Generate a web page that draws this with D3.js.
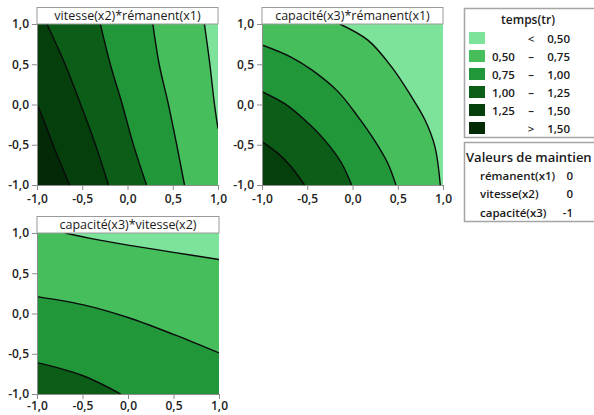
<!DOCTYPE html>
<html>
<head>
<meta charset="utf-8">
<script src="https://cdn.jsdelivr.net/npm/d3@7"></script>
<style>
  body { margin: 0; background: white; }
  svg { display: block; font-family: 'Open Sans', 'Noto Sans', sans-serif; }
</style>
</head>
<body>
<svg id="chart" width="594" height="415"></svg>
<script>
// contour levels and fill colours (light -> dark)
const levels = [0.5, 0.75, 1.0, 1.25, 1.5]
const colors = ['#7de39b', '#46be5b', '#21973a', '#0b5d17', '#05400c', '#022a06']
const legendRows = [
  ['', '<', '0,50'],
  ['0,50', '–', '0,75'],
  ['0,75', '–', '1,00'],
  ['1,00', '–', '1,25'],
  ['1,25', '–', '1,50'],
  ['', '>', '1,50']
]
const holdVars = ['rémanent(x1)', 'vitesse(x2)', 'capacité(x3)']
const holdValues = ['0', '0', '-1']
const tickValues = [-1, -0.5, 0, 0.5, 1]
const panelTitles = ['vitesse(x2)*rémanent(x1)', 'capacité(x3)*rémanent(x1)', 'capacité(x3)*vitesse(x2)']

// contour lines, [x, y] in coded units
const vrLines = [
  { level: 0.5, points: [[0.85, 1], [0.91, 0.5], [0.96, 0.01], [1, -0.3]] },
  { level: 0.75, points: [[0.28, 1], [0.35, 0.5], [0.45, 0.01], [0.54, -0.48], [0.63, -1]] },
  { level: 1.0, points: [[-0.30, 1], [-0.19, 0.5], [-0.06, 0.01], [0.06, -0.48], [0.21, -1]] },
  { level: 1.25, points: [[-0.89, 1], [-0.69, 0.5], [-0.52, 0.01], [-0.36, -0.48], [-0.21, -1]] },
  { level: 1.5, points: [[-1, 0.01], [-0.91, -0.24], [-0.83, -0.48], [-0.74, -0.73], [-0.64, -1]] }
]
const crLines = [
  { level: 0.5, points: [[-0.14, 1], [0.17, 0.8], [0.43, 0.47], [0.65, 0.1], [0.8, -0.19], [0.91, -0.52], [0.97, -1]] },
  { level: 0.75, points: [[-1, 0.74], [-0.68, 0.59], [-0.45, 0.43], [-0.16, 0.16], [0.06, -0.15], [0.24, -0.44], [0.39, -0.73], [0.48, -1]] },
  { level: 1.0, points: [[-1, 0.16], [-0.75, 0.01], [-0.53, -0.19], [-0.31, -0.44], [-0.12, -0.73], [-0.01, -1]] },
  { level: 1.25, points: [[-1, -0.46], [-0.82, -0.61], [-0.68, -0.77], [-0.53, -1]] }
]
const cvLines = [
  { level: 0.5, points: [[-0.69, 1], [-0.4, 0.93], [0, 0.85], [0.5, 0.76], [1, 0.67]] },
  { level: 0.75, points: [[-1, 0.21], [-0.5, 0.11], [0, -0.05], [0.5, -0.26], [1, -0.49]] },
  { level: 1.0, points: [[-1, -0.61], [-0.5, -0.77], [-0.08, -1]] }
]

const svg = d3.select('#chart')
const fr = d3.formatLocale({ decimal: ',', thousands: ' ', grouping: [3], currency: ['', ''], minus: '-' })
const fmt = fr.format('.1f')

const panels = [
  { lines: vrLines, x0: 37, x1: 218, y0: 24, y1: 185, pad: 4 },
  { lines: crLines, x0: 262, x1: 443, y0: 24, y1: 185, pad: 4 },
  { lines: cvLines, x0: 37, x1: 219, y0: 233, y1: 394, pad: 2 }
]

// position of a boundary point along the plot perimeter (clockwise from top-left)
function perimT (p) {
  const [x, y] = p
  const e = 1e-6
  if (Math.abs(y - 1) < e) return x + 1
  if (Math.abs(x - 1) < e) return 2 + (1 - y)
  if (Math.abs(y + 1) < e) return 4 + (1 - x)
  return 6 + (y + 1)
}
const corners = [{ t: 0, p: [-1, 1] }, { t: 2, p: [1, 1] }, { t: 4, p: [1, -1] }, { t: 6, p: [-1, -1] }]
const mod8 = (a) => ((a % 8) + 8) % 8

// corners needed to close the region on the bottom-left (high) side
function closingCorners (pts) {
  const ts = perimT(pts[0])
  const te = perimT(pts[pts.length - 1])
  const fwd = mod8(ts - te)
  if (mod8(6 - te) < fwd) {
    return corners.filter(c => mod8(c.t - te) > 0 && mod8(c.t - te) < fwd)
      .sort((a, b) => mod8(a.t - te) - mod8(b.t - te)).map(c => c.p)
  }
  const bwd = mod8(te - ts)
  return corners.filter(c => mod8(te - c.t) > 0 && mod8(te - c.t) < bwd)
    .sort((a, b) => mod8(te - a.t) - mod8(te - b.t)).map(c => c.p)
}

panels.forEach((pn, i) => {
  const x = d3.scaleLinear().domain([-1, 1]).range([pn.x0, pn.x1])
  const y = d3.scaleLinear().domain([-1, 1]).range([pn.y1, pn.y0])
  const g = svg.append('g')

  g.append('clipPath').attr('id', `clip${i}`)
    .append('rect')
    .attr('x', x(-1)).attr('y', y(1))
    .attr('width', x(1) - x(-1)).attr('height', y(-1) - y(1))

  const plot = g.append('g').attr('clip-path', `url(#clip${i})`)
  plot.append('rect')
    .attr('x', x(-1)).attr('y', y(1))
    .attr('width', x(1) - x(-1)).attr('height', y(-1) - y(1))
    .attr('fill', colors[0])

  const line = d3.line().x(d => x(d[0])).y(d => y(d[1])).curve(d3.curveCatmullRom)
  const sorted = pn.lines.slice().sort((a, b) => a.level - b.level)

  sorted.forEach(l => {
    const extra = closingCorners(l.points)
    const d = line(l.points) + extra.map(c => `L${x(c[0])},${y(c[1])}`).join('') + 'Z'
    plot.append('path')
      .attr('d', d)
      .attr('fill', colors[levels.indexOf(l.level) + 1])
  })

  sorted.forEach(l => {
    plot.append('path')
      .attr('d', line(l.points))
      .attr('fill', 'none')
      .attr('stroke', '#0a0a0a')
      .attr('stroke-width', 1.4)
  })

  // axes
  const xAxis = g.append('g')
    .attr('transform', `translate(0,${y(-1)})`)
    .call(d3.axisBottom(x).tickValues(tickValues).tickFormat(fmt).tickSize(5).tickPadding(pn.pad))
  const yAxis = g.append('g')
    .attr('transform', `translate(${x(-1)},0)`)
    .call(d3.axisLeft(y).tickValues(tickValues).tickFormat(fmt).tickSize(5).tickPadding(3))
  ;[xAxis, yAxis].forEach(a => {
    a.selectAll('path, line').attr('stroke', '#8c8c8c')
    a.selectAll('text')
      .attr('fill', '#222')
      .attr('font-size', '12px')
      .attr('font-weight', 600)
      .attr('font-family', "'Open Sans', sans-serif")
  })

  // title box
  g.append('rect')
    .attr('x', x(-1)).attr('y', y(1) - 16.5)
    .attr('width', x(1) - x(-1)).attr('height', 16.5)
    .attr('fill', 'white')
    .attr('stroke', '#9a9a9a')
  g.append('text')
    .attr('x', (x(-1) + x(1)) / 2)
    .attr('y', y(1) - 4)
    .attr('text-anchor', 'middle')
    .attr('font-size', '12.5px')
    .attr('font-weight', 500)
    .attr('fill', '#1a1a1a')
    .text(panelTitles[i])
})

// legend: response classes
const lg = svg.append('g')
lg.append('rect')
  .attr('x', 464.5).attr('y', 8.5).attr('width', 140).attr('height', 129)
  .attr('fill', 'white').attr('stroke', '#a5a5a5').attr('stroke-width', 1.5)
lg.append('text')
  .attr('x', 528).attr('y', 24)
  .attr('text-anchor', 'middle')
  .attr('font-size', '12px').attr('font-weight', 600).attr('fill', '#1a1a1a')
  .text('temps(tr)')

const rowY = d3.scaleLinear().domain([0, 5]).range([38, 128])
legendRows.forEach((r, i) => {
  const cy = rowY(i)
  lg.append('rect')
    .attr('x', 469).attr('y', cy - 6).attr('width', 16).attr('height', 12)
    .attr('fill', colors[i])
  const t = lg.append('g')
    .attr('font-size', '11.5px').attr('font-weight', 600).attr('fill', '#1a1a1a')
  t.append('text').attr('x', 492).attr('y', cy + 4.5).text(r[0])
  t.append('text').attr('x', 531).attr('y', cy + 4.5).attr('text-anchor', 'middle').text(r[1])
  t.append('text').attr('x', 570).attr('y', cy + 4.5).attr('text-anchor', 'end').text(r[2])
})

// legend: hold values
const hg = svg.append('g')
hg.append('rect')
  .attr('x', 464.5).attr('y', 142.5).attr('width', 140).attr('height', 79)
  .attr('fill', 'white').attr('stroke', '#a5a5a5').attr('stroke-width', 1.5)
hg.append('text')
  .attr('x', 466).attr('y', 161.5)
  .attr('font-size', '13px').attr('font-weight', 600).attr('fill', '#1a1a1a')
  .text('Valeurs de maintien')
holdVars.forEach((v, i) => {
  const cy = 175.5 + i * 18.5
  hg.append('text')
    .attr('x', 480).attr('y', cy + 4)
    .attr('font-size', '11.5px').attr('font-weight', 600).attr('fill', '#1a1a1a')
    .text(v)
  hg.append('text')
    .attr('x', 573).attr('y', cy + 4)
    .attr('text-anchor', 'end')
    .attr('font-size', '11.5px').attr('font-weight', 600).attr('fill', '#1a1a1a')
    .text(holdValues[i])
})
</script>
</body>
</html>
